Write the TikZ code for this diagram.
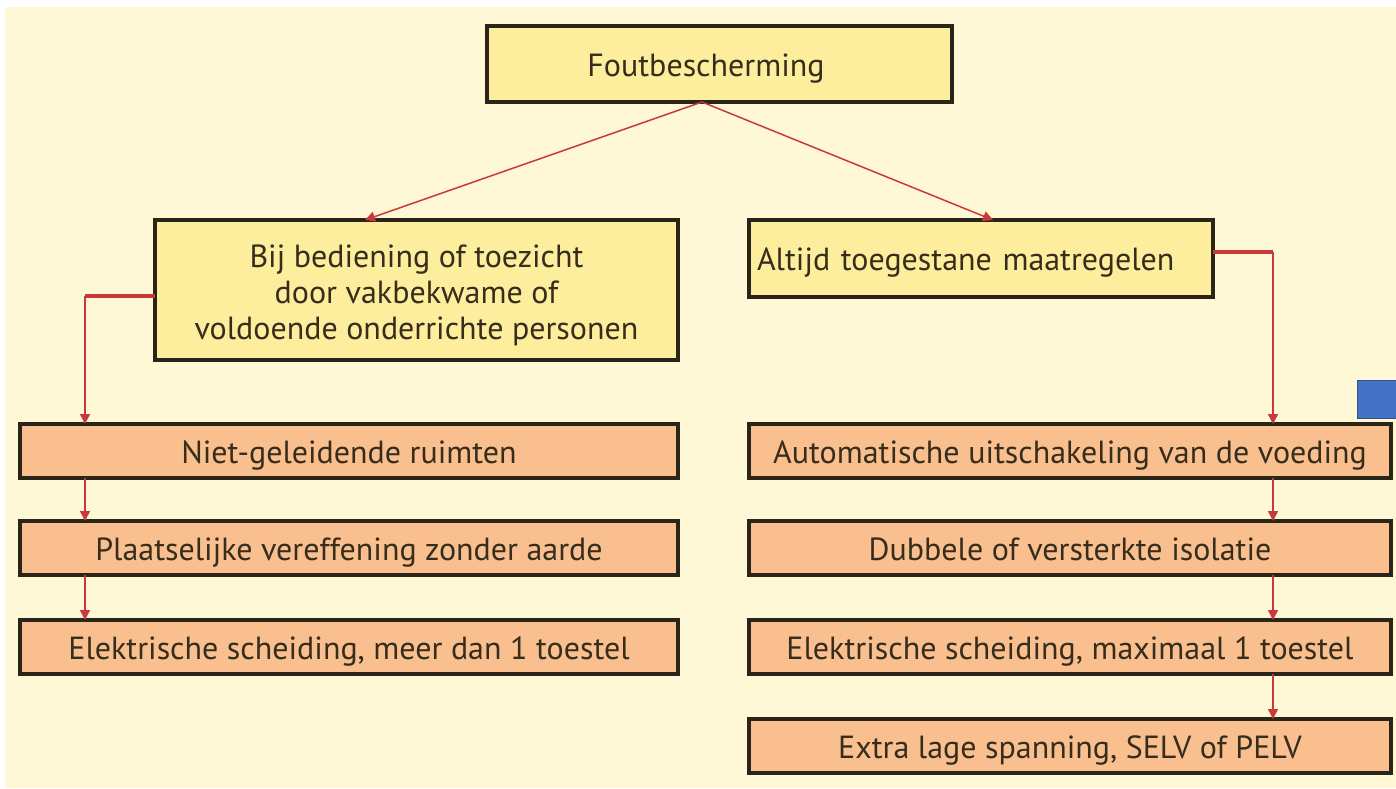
\documentclass[tikz,border=0pt]{standalone}
\usepackage{fontspec}
\setmainfont{PT Sans}
\usetikzlibrary{arrows.meta}

\definecolor{paper}{HTML}{FFF8D6}
\definecolor{ylw}{HTML}{FCEE9C}
\definecolor{org}{HTML}{F9BF8E}
\definecolor{boxline}{HTML}{2B2418}
\definecolor{txt}{HTML}{362D1C}
\definecolor{arr}{HTML}{C83A3A}
\definecolor{blu}{HTML}{4472C4}
\definecolor{bluline}{HTML}{2F528F}

\tikzset{
  box/.style={draw=boxline, line width=1.75pt, inner sep=0pt, outer sep=0pt,
    font=\fontsize{16}{18}\selectfont, text=txt, align=center},
  oneline/.style={text height=14pt, text depth=2pt},
  yellowbox/.style={box, fill=ylw},
  orangebox/.style={box, oneline, fill=org},
  leftcol/.style={orangebox, minimum width=329pt, minimum height=27pt},
  rightcol/.style={orangebox, minimum width=321pt, minimum height=27pt},
  link/.style={draw=arr, line width=0.75pt, -{Triangle[length=5pt,width=5pt]}},
  trunk/.style={draw=arr, line width=2pt},
}

\begin{document}
\begin{tikzpicture}[x=0.5pt, y=-0.5pt]
  % page and background
  \useasboundingbox (0,0) rectangle (1396,788);
  \fill[white] (0,0) rectangle (1396,788);
  \fill[paper] (5,7) rectangle (1396,788);

  % top level
  \node[yellowbox, oneline, minimum width=232.5pt, minimum height=38pt] (top) at (719.5,64)
    {Foutbescherming\hspace*{13.5pt}};

  % second level
  \node[yellowbox, minimum width=261.5pt, minimum height=70pt] (lm) at (416.5,290)
    {\rule{0pt}{17pt}Bij bediening of toezicht\\door vakbekwame of\\voldoende onderrichte personen};
  \node[yellowbox, oneline, text width=224pt, inner xsep=4pt, align=left, minimum height=38.5pt] (rm) at (981,258.5)
    {Altijd toegestane maatregelen};

  % left column
  \node[leftcol] (l1) at (349,451) {Niet-geleidende ruimten};
  \node[leftcol] (l2) at (349,548) {Plaatselijke vereffening zonder aarde};
  \node[leftcol] (l3) at (349,647) {Elektrische scheiding, meer dan 1 toestel};

  % right column
  \node[rightcol] (r1) at (1070,451) {Automatische uitschakeling van de voeding};
  \node[rightcol] (r2) at (1070,548) {Dubbele of versterkte isolatie};
  \node[rightcol] (r3) at (1070,647) {Elektrische scheiding, maximaal 1 toestel};
  \node[rightcol] (r4) at (1070,746) {Extra lage spanning, SELV of PELV};

  % small blue marker at the right edge
  \node[draw=bluline, fill=blu, line width=0.5pt, inner sep=0pt, minimum width=20pt, minimum height=19pt] (mark) at (1377,399) {};

  % branches from the top
  \draw[link] ([xshift=-8.75pt]top.south) -- ([xshift=-25.75pt]lm.north);
  \draw[link] ([xshift=-8.75pt]top.south) -- ([xshift=6pt]rm.north);

  % left chain
  \coordinate (lbend) at (85,296);
  \draw[trunk] ([yshift=-3pt]lm.west) -- (lbend);
  \draw[link] (lbend) -- (lbend |- l1.north);
  \draw[link] (l1.south -| lbend) -- (l2.north -| lbend);
  \draw[link] (l2.south -| lbend) -- (l3.north -| lbend);

  % right chain
  \coordinate (rbend) at (1273,252);
  \draw[trunk] ([yshift=3.25pt]rm.east) -- (rbend);
  \draw[link] (rbend) -- (rbend |- r1.north);
  \draw[link] (r1.south -| rbend) -- (r2.north -| rbend);
  \draw[link] (r2.south -| rbend) -- (r3.north -| rbend);
  \draw[link] (r3.south -| rbend) -- (r4.north -| rbend);
\end{tikzpicture}
\end{document}
